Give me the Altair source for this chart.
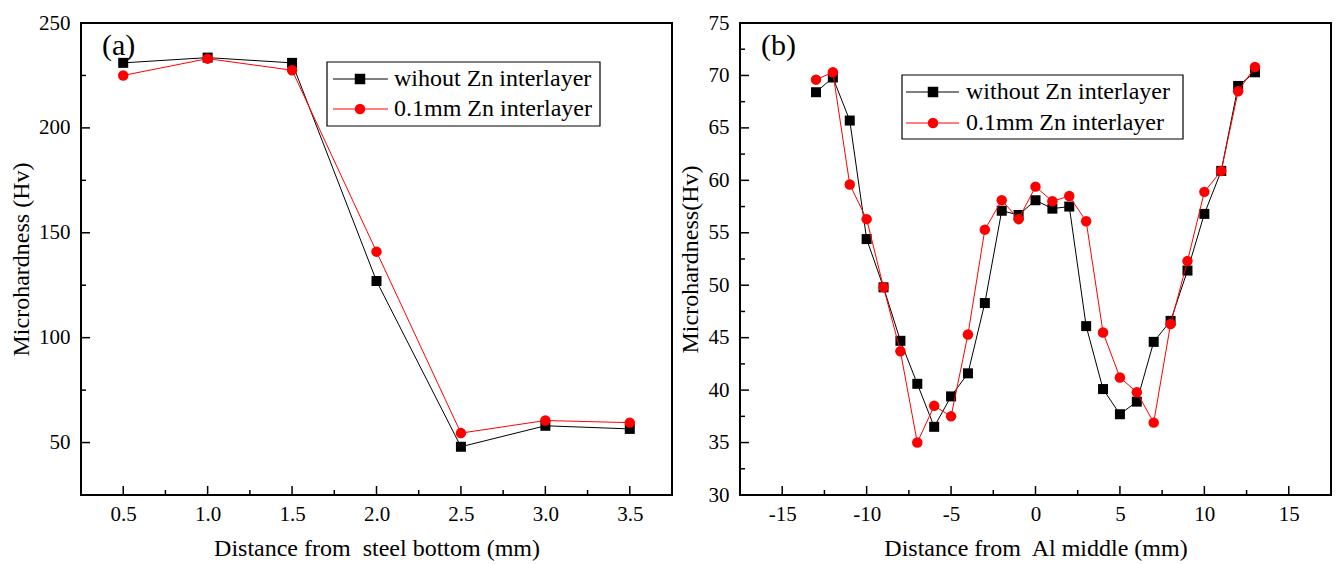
import altair as alt
import pandas as pd

# ---------------- data ----------------
a_x = [0.5, 1.0, 1.5, 2.0, 2.5, 3.0, 3.5]
a_without = [231.0, 233.5, 231.0, 127.0, 48.0, 58.0, 56.5]
a_zn = [225.0, 233.0, 227.5, 141.0, 54.5, 60.5, 59.5]

b_x = list(range(-13, 14))
b_without = [68.4, 69.8, 65.7, 54.4, 49.8, 44.7, 40.6, 36.5, 39.4, 41.6, 48.3, 57.1, 56.7,
             58.1, 57.3, 57.5, 46.1, 40.1, 37.7, 38.9, 44.6, 46.6, 51.4, 56.8, 60.9, 69.0, 70.3]
b_zn = [69.6, 70.3, 59.6, 56.3, 49.8, 43.7, 35.0, 38.5, 37.5, 45.3, 55.3, 58.1, 56.3,
        59.4, 58.0, 58.5, 56.1, 45.5, 41.2, 39.8, 36.9, 46.3, 52.3, 58.9, 60.9, 68.5, 70.8]

a_xmajor = [0.5, 1.0, 1.5, 2.0, 2.5, 3.0, 3.5]
a_xminor = [0.75, 1.25, 1.75, 2.25, 2.75, 3.25]
a_ymajor = [50, 100, 150, 200, 250]
a_yminor = [75, 125, 175, 225]

b_xmajor = [-15, -10, -5, 0, 5, 10, 15]
b_xminor = [-12.5, -7.5, -2.5, 2.5, 7.5, 12.5]
b_ymajor = [30, 35, 40, 45, 50, 55, 60, 65, 70, 75]
b_yminor = [32.5, 37.5, 42.5, 47.5, 52.5, 57.5, 62.5, 67.5, 72.5]

a_legend = ["wihout Zn interlayer", "0.1mm Zn interlayer"]
b_legend = ["without Zn interlayer", "0.1mm Zn interlayer"]

FONT = "Liberation Serif"
W, H = 591, 472
RED = "#ff0000"
BLACK = "#000000"
TICK_FS = 21
TITLE_FS = 24
LEG_FS = 24


def panel(xs, yb, yr, xdom, ydom, xmaj, xmin, ymaj, ymin, xlabel_expr, xtitle, ytitle,
          letter, legend_labels, leg, y_title_pad):
    xs_ = alt.Scale(domain=xdom, nice=False, zero=False)
    ys_ = alt.Scale(domain=ydom, nice=False, zero=False)

    df_b = pd.DataFrame({"x": xs, "y": yb})
    df_r = pd.DataFrame({"x": xs, "y": yr})

    xaxis = alt.Axis(values=xmaj, labelExpr=xlabel_expr, ticks=False, domain=False, grid=False,
                     labelFont=FONT, labelFontSize=TICK_FS, labelColor=BLACK, labelPadding=8,
                     title=xtitle, titleFont=FONT, titleFontSize=TITLE_FS, titleFontWeight="normal",
                     titleColor=BLACK, titlePadding=12)
    yaxis = alt.Axis(values=ymaj, format="d", ticks=False, domain=False, grid=False,
                     labelFont=FONT, labelFontSize=TICK_FS, labelColor=BLACK, labelPadding=11,
                     title=ytitle, titleFont=FONT, titleFontSize=TITLE_FS, titleFontWeight="normal",
                     titleColor=BLACK, titlePadding=y_title_pad)

    def X(f):
        return alt.X(f, type="quantitative", scale=xs_, axis=xaxis)

    def Y(f):
        return alt.Y(f, type="quantitative", scale=ys_, axis=yaxis)

    base_b = alt.Chart(df_b)
    line_b = base_b.mark_line(color=BLACK, strokeWidth=1).encode(x=X("x"), y=Y("y"))
    pts_b = base_b.mark_square(color=BLACK, size=100, opacity=1).encode(x=X("x"), y=Y("y"))
    base_r = alt.Chart(df_r)
    line_r = base_r.mark_line(color=RED, strokeWidth=1).encode(x=X("x"), y=Y("y"))
    pts_r = base_r.mark_circle(color=RED, size=110, opacity=1).encode(x=X("x"), y=Y("y"))

    # inward ticks
    def xt(vals, ln):
        return alt.Chart(pd.DataFrame({"x": vals})).mark_rule(color=BLACK, strokeWidth=1.5).encode(
            x=X("x"), y=alt.value(H), y2=alt.value(H - ln))

    def yt(vals, ln):
        return alt.Chart(pd.DataFrame({"y": vals})).mark_rule(color=BLACK, strokeWidth=1.5).encode(
            y=Y("y"), x=alt.value(0), x2=alt.value(ln))

    ticks = [xt(xmaj, 9), xt(xmin, 5), yt(ymaj, 9), yt(ymin, 5)]

    # legend box
    bx0, by0, bx1, by1, sx, lx0, lx1, tx, r1, r2 = leg
    box = alt.Chart(pd.DataFrame({"k": [0]})).mark_rect(
        fill="white", stroke=BLACK, strokeWidth=1.2).encode(
        x=alt.value(bx0), x2=alt.value(bx1), y=alt.value(by0), y2=alt.value(by1))
    legend_layers = [box]
    for lab, ry, col, shape in [(legend_labels[0], r1, BLACK, "square"),
                                (legend_labels[1], r2, RED, "circle")]:
        ldf = pd.DataFrame({"label": [lab]})
        legend_layers.append(alt.Chart(ldf).mark_rule(color=col, strokeWidth=1).encode(
            x=alt.value(lx0), x2=alt.value(lx1), y=alt.value(ry)))
        legend_layers.append(alt.Chart(ldf).mark_point(
            shape=shape, filled=True, color=col, size=110, opacity=1).encode(
            x=alt.value(sx), y=alt.value(ry)))
        legend_layers.append(alt.Chart(ldf).mark_text(
            font=FONT, fontSize=LEG_FS, color=BLACK, align="left", baseline="middle").encode(
            x=alt.value(tx), y=alt.value(ry), text="label:N"))

    letter_layer = alt.Chart(pd.DataFrame({"t": [letter]})).mark_text(
        font=FONT, fontSize=30, color=BLACK, align="left", baseline="alphabetic").encode(
        x=alt.value(21), y=alt.value(32), text="t:N")

    return alt.layer(line_b, pts_b, line_r, pts_r, *ticks, *legend_layers, letter_layer).properties(
        width=W, height=H)


left = panel(a_x, a_without, a_zn, [0.25, 3.75], [25, 250],
             a_xmajor, a_xminor, a_ymajor, a_yminor, "format(datum.value, '.1f')",
             "Distance from\u00a0 steel bottom (mm)", "Microhardness (Hv)", "(a)", a_legend,
             (246, 39, 519, 103, 279, 252, 307, 313, 56, 86), 5)

right = panel(b_x, b_without, b_zn, [-17.5, 17.5], [30, 75],
              b_xmajor, b_xminor, b_ymajor, b_yminor, "'' + datum.value",
              "Distance from\u00a0 Al middle (mm)", "Microhardness(Hv)", "(b)", b_legend,
              (162, 52, 443, 116, 193, 166, 219, 226, 69, 100), 6)

chart = alt.hconcat(left, right, spacing=4).properties(
    padding={"left": 8, "top": 11, "right": 4, "bottom": 2},
    background="white",
).configure_view(stroke=BLACK, strokeWidth=2)

chart.save("out.html", embed_options={"renderer": "svg", "actions": False})
